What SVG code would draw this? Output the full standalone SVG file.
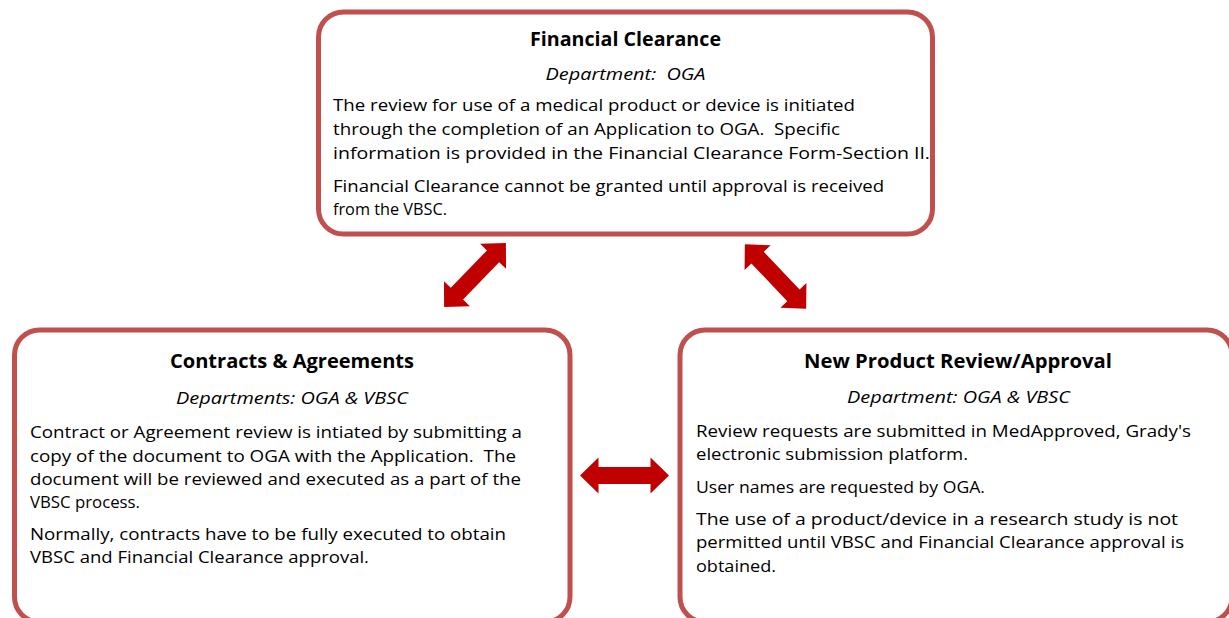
<svg xmlns="http://www.w3.org/2000/svg" width="1229" height="618" viewBox="0 0 1229 618">
<defs>
<style>
.box{fill:#fff;stroke:#C0504D;stroke-width:5}
.arr{fill:#C00000}
text{font-family:"Open Sans","Liberation Sans",sans-serif;font-size:17px;fill:#000}
.t{font-weight:bold;font-size:19.5px;text-anchor:middle}
.d{font-style:italic;text-anchor:middle}
</style>
<path id="dbl" d="M-44.5,0 L-26,-18 L-26,-8.5 L26,-8.5 L26,-18 L44.5,0 L26,18 L26,8.5 L-26,8.5 L-26,18 Z"/>
</defs>
<rect width="1229" height="618" fill="#fff"/>
<g id="financial-clearance">
<rect class="box" x="318.5" y="12" width="614" height="222" rx="25"/>
<text class="t" x="625.5" y="46" textLength="191" lengthAdjust="spacingAndGlyphs">Financial Clearance</text>
<text class="d" x="625.5" y="80" xml:space="preserve" textLength="160" lengthAdjust="spacingAndGlyphs">Department:  OGA</text>
<text x="333" y="111" textLength="522" lengthAdjust="spacingAndGlyphs">The review for use of a medical product or device is initiated</text>
<text x="333" y="135" xml:space="preserve" textLength="507" lengthAdjust="spacingAndGlyphs">through the completion of an Application to OGA.  Specific</text>
<text x="333" y="159" textLength="597" lengthAdjust="spacingAndGlyphs">information is provided in the Financial Clearance Form-Section II.</text>
<text x="333" y="192" textLength="551" lengthAdjust="spacingAndGlyphs">Financial Clearance cannot be granted until approval is received</text>
<text x="333" y="215" textLength="114" lengthAdjust="spacingAndGlyphs">from the VBSC.</text>
</g>
<g id="contracts-agreements">
<rect class="box" x="14.5" y="330" width="555.5" height="292" rx="25"/>
<text class="t" x="292" y="368" textLength="244" lengthAdjust="spacingAndGlyphs">Contracts &amp; Agreements</text>
<text class="d" x="292" y="404" textLength="232" lengthAdjust="spacingAndGlyphs">Departments: OGA &amp; VBSC</text>
<text x="30" y="438" textLength="492" lengthAdjust="spacingAndGlyphs">Contract or Agreement review is intiated by submitting a</text>
<text x="30" y="462" xml:space="preserve" textLength="486" lengthAdjust="spacingAndGlyphs">copy of the document to OGA with the Application.  The</text>
<text x="30" y="485" textLength="491" lengthAdjust="spacingAndGlyphs">document will be reviewed and executed as a part of the</text>
<text x="30" y="508" textLength="110" lengthAdjust="spacingAndGlyphs">VBSC process.</text>
<text x="30" y="540" textLength="476" lengthAdjust="spacingAndGlyphs">Normally, contracts have to be fully executed to obtain</text>
<text x="30" y="563" textLength="339" lengthAdjust="spacingAndGlyphs">VBSC and Financial Clearance approval.</text>
</g>
<g id="new-product-review">
<rect class="box" x="680" y="330" width="552" height="292" rx="25"/>
<text class="t" x="958" y="368" textLength="308" lengthAdjust="spacingAndGlyphs">New Product Review/Approval</text>
<text class="d" x="958.5" y="403" textLength="223" lengthAdjust="spacingAndGlyphs">Department: OGA &amp; VBSC</text>
<text x="696" y="437" textLength="495" lengthAdjust="spacingAndGlyphs">Review requests are submitted in MedApproved, Grady's</text>
<text x="696" y="460" textLength="272" lengthAdjust="spacingAndGlyphs">electronic submission platform.</text>
<text x="696" y="493" textLength="289" lengthAdjust="spacingAndGlyphs">User names are requested by OGA.</text>
<text x="696" y="525" textLength="482" lengthAdjust="spacingAndGlyphs">The use of a product/device in a research study is not</text>
<text x="696" y="548" textLength="488" lengthAdjust="spacingAndGlyphs">permitted until VBSC and Financial Clearance approval is</text>
<text x="696" y="572" textLength="80" lengthAdjust="spacingAndGlyphs">obtained.</text>
</g>
<g id="connectors">
<use href="#dbl" class="arr" transform="translate(475,275) rotate(-46)"/>
<use href="#dbl" class="arr" transform="translate(775.5,276.5) rotate(46.5)"/>
<use href="#dbl" class="arr" transform="translate(624.5,475.5)"/>
</g>
</svg>
